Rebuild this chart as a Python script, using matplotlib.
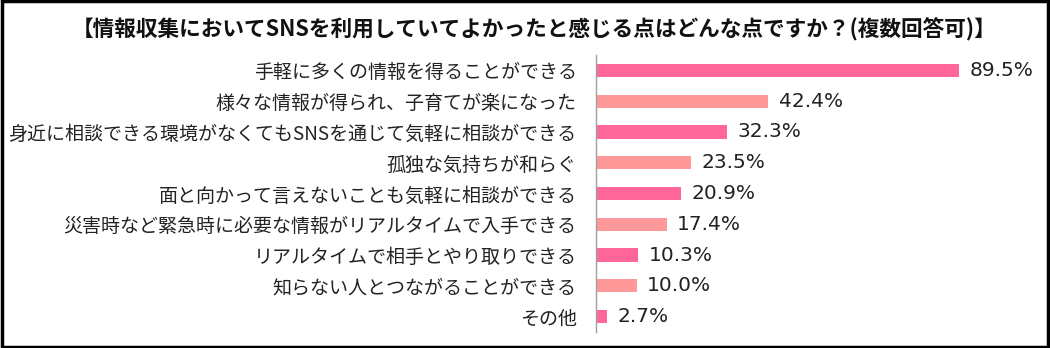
import matplotlib
matplotlib.use("Agg")
import matplotlib.pyplot as plt
from matplotlib.patches import Rectangle
from matplotlib.font_manager import FontProperties

plt.rcParams['font.family'] = ['Noto Sans CJK JP', 'DejaVu Sans']

title = "【情報収集においてSNSを利用していてよかったと感じる点はどんな点ですか？(複数回答可)】"
categories = [
    "手軽に多くの情報を得ることができる",
    "様々な情報が得られ、子育てが楽になった",
    "身近に相談できる環境がなくてもSNSを通じて気軽に相談ができる",
    "孤独な気持ちが和らぐ",
    "面と向かって言えないことも気軽に相談ができる",
    "災害時など緊急時に必要な情報がリアルタイムで入手できる",
    "リアルタイムで相手とやり取りできる",
    "知らない人とつながることができる",
    "その他",
]
values = [89.5, 42.4, 32.3, 23.5, 20.9, 17.4, 10.3, 10.0, 2.7]
colors = ["#FF6699", "#FF9999"]

W, H = 1050, 348
fig = plt.figure(figsize=(W / 100, H / 100), dpi=100)

ax_left, ax_right = 596, 1040
ax_top, ax_bottom = 55, 332
ax = fig.add_axes([ax_left / W, 1 - ax_bottom / H, (ax_right - ax_left) / W, (ax_bottom - ax_top) / H])

px_per_unit = (959 - 596) / 89.5
ax.set_xlim(0, (ax_right - ax_left) / px_per_unit)
ax.set_ylim(len(categories) - 0.5, -0.5)

ypos = list(range(len(categories)))
bar_colors = [colors[i % 2] for i in ypos]
ax.barh(ypos, values, height=0.43, color=bar_colors, edgecolor='none')

num_fp = FontProperties(family='DejaVu Sans', size=14.5)
for y, v in zip(ypos, values):
    ax.text(v + 2.6, y, f"{v:.1f}%", va='center', ha='left',
            fontproperties=num_fp, color='#222222')

ax.set_yticks(ypos)
ax.set_yticklabels(categories, fontsize=13.7, color='#222222')
ax.tick_params(axis='y', length=0, pad=14)
ax.set_xticks([])
for s in ['top', 'right', 'bottom']:
    ax.spines[s].set_visible(False)
ax.spines['left'].set_color('#A0A0A0')
ax.spines['left'].set_linewidth(1.0)

fig.text(534 / W, 1 - 30 / H, title, ha='center', va='center', fontsize=15.6,
         fontweight='bold', color='#111111')

fig.patches.append(Rectangle((0.0015, 0.003), 0.997, 0.994, transform=fig.transFigure,
                             fill=False, edgecolor='black', linewidth=2.5))

fig.savefig("out.png", dpi=100, facecolor='white')
